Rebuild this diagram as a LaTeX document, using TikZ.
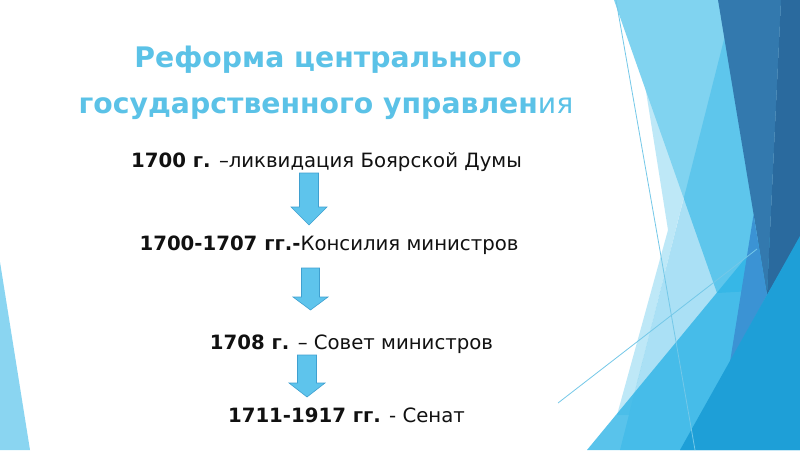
\documentclass[tikz,border=0pt]{standalone}
\usepackage{fontspec}
\setmainfont{DejaVu Sans}
\definecolor{accent}{HTML}{2BB3E6}
\definecolor{bandlight}{HTML}{80D3F0}
\definecolor{darkA}{HTML}{3379AE}
\definecolor{darkB}{HTML}{2A6A9E}
\definecolor{purpleblue}{HTML}{3B93D4}
\definecolor{brightblue}{HTML}{1E9FD7}
\definecolor{thinline}{HTML}{74C8E8}
\definecolor{titleblue}{HTML}{5BC2E7}
\definecolor{bodyblack}{HTML}{111111}
\definecolor{arrowfill}{HTML}{5EC4EC}
\definecolor{arrowline}{HTML}{3FA0D0}
\tikzset{
  titletext/.style={anchor=base, inner sep=0pt, text=titleblue, font=\fontsize{28.3}{34}\selectfont},
  bodytext/.style={anchor=base, inner sep=0pt, text=bodyblack, font=\fontsize{19.7}{24}\selectfont},
  blockarrow/.style={fill=arrowfill, draw=arrowline, line width=0.6pt, line join=miter},
  facet/.style={fill=accent, draw=none},
  hairline/.style={draw=thinline, line width=0.8pt}
}
\begin{document}
\begin{tikzpicture}[x=1pt,y=-1pt]
\useasboundingbox (0,0) rectangle (800,450);
\fill[white] (0,0) rectangle (800,450);
% background facets
\fill[facet, opacity=0.3] (645,85) -- (668,230) -- (617,415) -- (629,415) -- (712,85) -- cycle;
\fill[bandlight] (614,0) -- (720,0) -- (770,290) -- (717,293) -- cycle;
\fill[facet, opacity=0.4] (734,0) -- (800,0) -- (800,450) -- (620,450) -- cycle;
\fill[facet, opacity=0.78] (587,450) -- (800,192) -- (800,450) -- cycle;
\fill[darkA] (718,0) -- (781,0) -- (767,295) -- cycle;
\fill[darkB] (781,0) -- (800,0) -- (800,238) -- (767,295) -- cycle;
\fill[purpleblue] (753.5,215) -- (767,295) -- (730,362) -- cycle;
\fill[brightblue] (800,236) -- (800,450) -- (680,450) -- cycle;
\fill[facet, opacity=0.55] (0,262) -- (30,450) -- (0,450) -- cycle;
\draw[hairline] (616,0) -- (695,450);
\draw[hairline] (558,403) -- (757,249);
% title
\node[titletext] (t1) at (328,67) {\bfseries Реформа центрального};
\node[titletext] (t2) at (326,113) {\bfseries государственного управлен\mdseries ия};
% body lines
\node[bodytext] (l1) at (326.5,167) {\textbf{1700 г.} –ликвидация Боярской Думы};
\node[bodytext] (l2) at (329,250) {\textbf{1700-1707 гг.-}Консилия министров};
\node[bodytext] (l3) at (351.5,349) {\textbf{1708 г.} – Совет министров};
\node[bodytext] (l4) at (346.5,422) {\textbf{1711-1917 гг.} - Сенат};
% block arrows
\draw[blockarrow] (299.5,173) -- (318.5,173) -- (318.5,207) -- (327,207) -- (309,225) -- (291,207) -- (299.5,207) -- cycle;
\draw[blockarrow] (301.5,268) -- (319.5,268) -- (319.5,297) -- (328,297) -- (310.5,310) -- (293,297) -- (301.5,297) -- cycle;
\draw[blockarrow] (297.5,355) -- (316.5,355) -- (316.5,383) -- (325,383) -- (307,397) -- (289,383) -- (297.5,383) -- cycle;
\end{tikzpicture}
\end{document}
